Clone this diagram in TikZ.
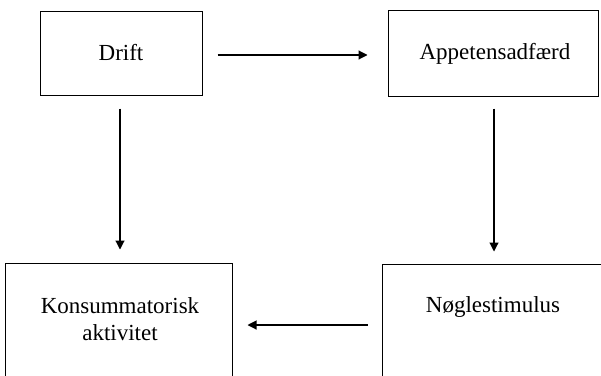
\documentclass[tikz,border=0pt]{standalone}
\usepackage{fontspec}
\setmainfont{Liberation Serif}
\usetikzlibrary{arrows.meta,calc}
\begin{document}
\begin{tikzpicture}[x=1pt,y=-1pt,
  box/.style={draw,line width=1pt,inner sep=0pt,minimum width=#1},
  lbl/.style={font=\fontsize{23}{27}\selectfont,inner sep=0pt,align=center},
  arr/.style={line width=1.1pt,-{Triangle[length=9pt,width=9pt]}}]
\useasboundingbox (0,0) rectangle (601,375);
\clip (0,0) rectangle (601,375);
\node[box=162pt,minimum height=84pt] (drift) at (121,53) {};
\node[box=210pt,minimum height=86pt] (app) at (493,53.5) {};
\node[box=227pt,minimum height=124pt] (kons) at (118.5,325) {};
\node[box=238pt,minimum height=122pt] (nogle) at (501,325) {};
\node[lbl] (tdrift) at (drift.center) {Drift};
\node[lbl] (tapp) at (495,53.5) {Appetensadfærd};
\node[lbl] (tkons) at (120,319) {Konsummatorisk\\aktivitet};
\node[lbl,anchor=base] (tnogle) at (493,312) {Nøglestimulus};
\draw[arr] ($(drift.east)+(15,2)$) -- ($(app.west)+(-20,1.5)$);
\draw[arr] ($(drift.south)+(-1,13)$) -- ($(kons.north)+(1.5,-13)$);
\draw[arr] ($(app.south)+(1,11.5)$) -- ($(nogle.north)+(-7,-12)$);
\draw[arr] ($(nogle.west)+(-14,0)$) -- ($(kons.east)+(15,0)$);
\end{tikzpicture}
\end{document}
